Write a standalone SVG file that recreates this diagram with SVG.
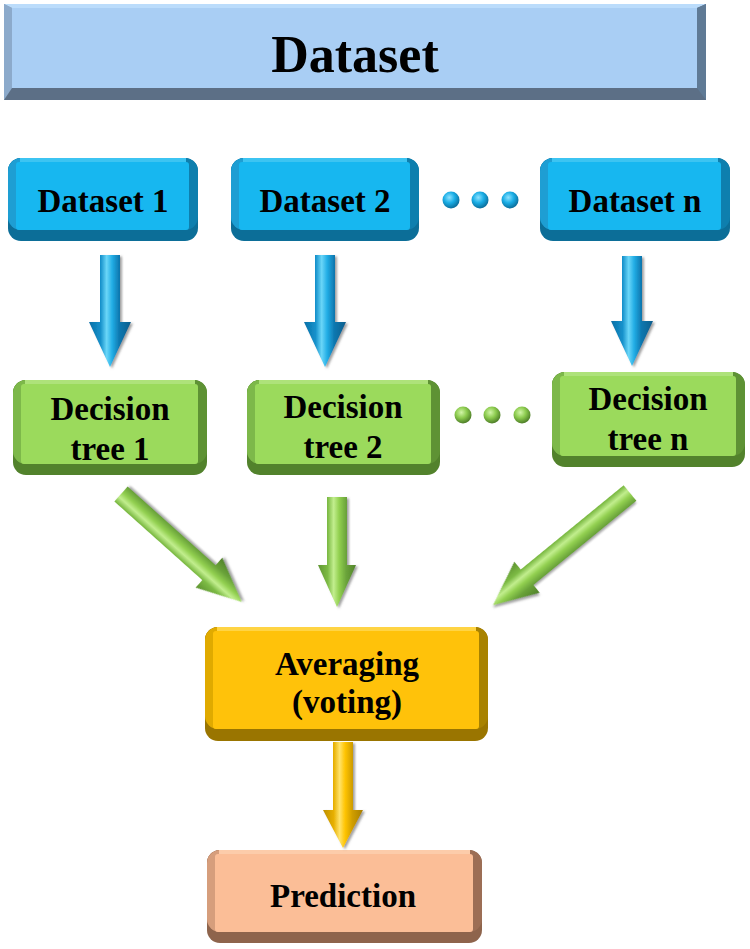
<svg xmlns="http://www.w3.org/2000/svg" width="750" height="949" viewBox="0 0 750 949">
<defs>
<style>
.lbl{font-family:"Liberation Serif","Times New Roman",serif;font-weight:bold;font-size:33px;text-anchor:middle;fill:#000}
.big{font-size:52px}
.bl-b{fill:#0C6E98}.bl-r{fill:#0E7FAE}.bl-l{fill:#1E9ED3}.bl-t{fill:#3CC4F2}.bl-f{fill:#17B7F0}
.gr-b{fill:#52822C}.gr-r{fill:#5E9234}.gr-l{fill:#7DB84A}.gr-t{fill:#AEE27A}.gr-f{fill:#9BDA5C}
.ye-b{fill:#9A7500}.ye-r{fill:#A88200}.ye-l{fill:#E0AA00}.ye-t{fill:#FFD444}.ye-f{fill:#FFC20A}
.pk-b{fill:#8E644C}.pk-r{fill:#9C6E55}.pk-l{fill:#D69E7C}.pk-t{fill:#FCCCAA}.pk-f{fill:#FBBE97}
.arr-b{fill:url(#gBlue)}.arr-g{fill:url(#gGreen)}.arr-y{fill:url(#gYellow)}
.arrow{filter:url(#sh)}
</style>
<filter id="sh" x="-30%" y="-10%" width="160%" height="130%">
<feDropShadow dx="2" dy="1.5" stdDeviation="1.2" flood-color="#555" flood-opacity="0.55"/>
</filter>
<linearGradient id="gBlue" gradientUnits="userSpaceOnUse" x1="-21" y1="0" x2="21" y2="0">
<stop offset="0" stop-color="#0B6FA6"/><stop offset="0.28" stop-color="#1592CC"/><stop offset="0.42" stop-color="#6AD6F8"/><stop offset="0.55" stop-color="#22AEE6"/><stop offset="0.72" stop-color="#0D78B0"/><stop offset="1" stop-color="#0A5E8C"/>
</linearGradient>
<linearGradient id="gGreen" gradientUnits="userSpaceOnUse" x1="-21" y1="0" x2="21" y2="0">
<stop offset="0" stop-color="#5A8E2E"/><stop offset="0.28" stop-color="#7DBB45"/><stop offset="0.42" stop-color="#C2EE8E"/><stop offset="0.55" stop-color="#92D050"/><stop offset="0.72" stop-color="#6AA33A"/><stop offset="1" stop-color="#4E7E28"/>
</linearGradient>
<linearGradient id="gYellow" gradientUnits="userSpaceOnUse" x1="-21" y1="0" x2="21" y2="0">
<stop offset="0" stop-color="#B88C00"/><stop offset="0.28" stop-color="#E8B000"/><stop offset="0.42" stop-color="#FFE36A"/><stop offset="0.55" stop-color="#FFC400"/><stop offset="0.72" stop-color="#D09E00"/><stop offset="1" stop-color="#A47C00"/>
</linearGradient>
<radialGradient id="dotB" cx="0.4" cy="0.35" r="0.65">
<stop offset="0" stop-color="#8FE2FF"/><stop offset="0.5" stop-color="#1AAEE6"/><stop offset="1" stop-color="#0B6E9C"/>
</radialGradient>
<radialGradient id="dotG" cx="0.4" cy="0.35" r="0.65">
<stop offset="0" stop-color="#D2F5A8"/><stop offset="0.5" stop-color="#8CCB4E"/><stop offset="1" stop-color="#4E7E28"/>
</radialGradient>
</defs>
<rect width="750" height="949" fill="#fff"/>

<g id="dataset">
<rect x="4" y="4" width="702" height="96" fill="#5C6F86"/>
<polygon points="4,4 12,8 12,88 4,100" fill="#8CAACB"/>
<polygon points="4,4 706,4 697,8 12,8" fill="#BBDCFB"/>
<polygon points="706,4 706,100 697,88 697,8" fill="#5F7A95"/>
<rect x="12" y="8" width="685" height="80" fill="#A9CEF4"/>
<text class="lbl big" x="355" y="72">Dataset</text>
</g>

<g id="ds1">
<rect x="8" y="158" width="190" height="83" rx="13" class="bl-b"/>
<rect x="8" y="158" width="190" height="72" rx="13" class="bl-r"/>
<rect x="8" y="158" width="181" height="72" rx="13" class="bl-l"/>
<rect x="20" y="158" width="166" height="4" class="bl-t"/>
<rect x="16" y="162" width="173" height="68" rx="3" class="bl-f"/>
<text class="lbl" x="103" y="212">Dataset 1</text>
</g>
<g id="ds2">
<rect x="231" y="158" width="188" height="83" rx="13" class="bl-b"/>
<rect x="231" y="158" width="188" height="72" rx="13" class="bl-r"/>
<rect x="231" y="158" width="179" height="72" rx="13" class="bl-l"/>
<rect x="243" y="158" width="164" height="4" class="bl-t"/>
<rect x="239" y="162" width="171" height="68" rx="3" class="bl-f"/>
<text class="lbl" x="325" y="212">Dataset 2</text>
</g>
<g id="dsn">
<rect x="540" y="158" width="190" height="83" rx="13" class="bl-b"/>
<rect x="540" y="158" width="190" height="72" rx="13" class="bl-r"/>
<rect x="540" y="158" width="181" height="72" rx="13" class="bl-l"/>
<rect x="552" y="158" width="166" height="4" class="bl-t"/>
<rect x="548" y="162" width="173" height="68" rx="3" class="bl-f"/>
<text class="lbl" x="635" y="212">Dataset n</text>
</g>

<g id="dt1">
<rect x="13" y="380" width="194" height="95" rx="13" class="gr-b"/>
<rect x="13" y="380" width="194" height="84" rx="13" class="gr-r"/>
<rect x="13" y="380" width="185" height="84" rx="13" class="gr-l"/>
<rect x="25" y="380" width="170" height="4" class="gr-t"/>
<rect x="21" y="384" width="177" height="80" rx="3" class="gr-f"/>
<text class="lbl" x="110" y="420">Decision</text>
<text class="lbl" x="110" y="460">tree 1</text>
</g>
<g id="dt2">
<rect x="247" y="380" width="193" height="95" rx="13" class="gr-b"/>
<rect x="247" y="380" width="193" height="84" rx="13" class="gr-r"/>
<rect x="247" y="380" width="184" height="84" rx="13" class="gr-l"/>
<rect x="259" y="380" width="169" height="4" class="gr-t"/>
<rect x="255" y="384" width="176" height="80" rx="3" class="gr-f"/>
<text class="lbl" x="343" y="418">Decision</text>
<text class="lbl" x="343" y="458">tree 2</text>
</g>
<g id="dtn">
<rect x="552" y="372" width="193" height="95" rx="13" class="gr-b"/>
<rect x="552" y="372" width="193" height="84" rx="13" class="gr-r"/>
<rect x="552" y="372" width="184" height="84" rx="13" class="gr-l"/>
<rect x="564" y="372" width="169" height="4" class="gr-t"/>
<rect x="560" y="376" width="176" height="80" rx="3" class="gr-f"/>
<text class="lbl" x="648" y="410">Decision</text>
<text class="lbl" x="648" y="450">tree n</text>
</g>

<g id="avg">
<rect x="205" y="627" width="283" height="114" rx="13" class="ye-b"/>
<rect x="205" y="627" width="283" height="102" rx="13" class="ye-r"/>
<rect x="205" y="627" width="274" height="102" rx="13" class="ye-l"/>
<rect x="217" y="627" width="259" height="4" class="ye-t"/>
<rect x="213" y="631" width="266" height="98" rx="3" class="ye-f"/>
<text class="lbl" x="347" y="675">Averaging</text>
<text class="lbl" x="347" y="713">(voting)</text>
</g>

<g id="pred">
<rect x="207" y="850" width="275" height="93" rx="13" class="pk-b"/>
<rect x="207" y="850" width="275" height="82" rx="13" class="pk-r"/>
<rect x="207" y="850" width="266" height="82" rx="13" class="pk-l"/>
<rect x="219" y="850" width="251" height="4" class="pk-t"/>
<rect x="215" y="854" width="258" height="78" rx="3" class="pk-f"/>
<text class="lbl" x="343" y="907">Prediction</text>
</g>

<g id="ellipsis">
<circle cx="451" cy="200" r="8.5" fill="url(#dotB)"/>
<circle cx="480" cy="200" r="8.5" fill="url(#dotB)"/>
<circle cx="510" cy="200" r="8.5" fill="url(#dotB)"/>
<circle cx="463" cy="415" r="8.5" fill="url(#dotG)"/>
<circle cx="492" cy="415" r="8.5" fill="url(#dotG)"/>
<circle cx="522" cy="415" r="8.5" fill="url(#dotG)"/>
</g>

<g id="connectors">
<path class="arrow arr-b" transform="translate(110,255)" d="M-10,0 L10,0 L10,67 L21,67 L0,112 L-21,67 L-10,67 Z"/>
<path class="arrow arr-b" transform="translate(325,255)" d="M-10,0 L10,0 L10,67 L21,67 L0,112 L-21,67 L-10,67 Z"/>
<path class="arrow arr-b" transform="translate(632,256)" d="M-10,0 L10,0 L10,65 L21,65 L0,110 L-21,65 L-10,65 Z"/>
<path class="arrow arr-g" transform="translate(121,494) rotate(-48.2)" d="M-10,0 L10,0 L10,118 L20,118 L0,162 L-20,118 L-10,118 Z"/>
<path class="arrow arr-g" transform="translate(337,497)" d="M-10,0 L10,0 L10,68 L19,68 L0,110 L-19,68 L-10,68 Z"/>
<path class="arrow arr-g" transform="translate(630,493) rotate(50.7)" d="M-10,0 L10,0 L10,133 L20,133 L0,177 L-20,133 L-10,133 Z"/>
<path class="arrow arr-y" transform="translate(343,742)" d="M-10,0 L10,0 L10,68 L20,68 L0,106 L-20,68 L-10,68 Z"/>
</g>
</svg>
